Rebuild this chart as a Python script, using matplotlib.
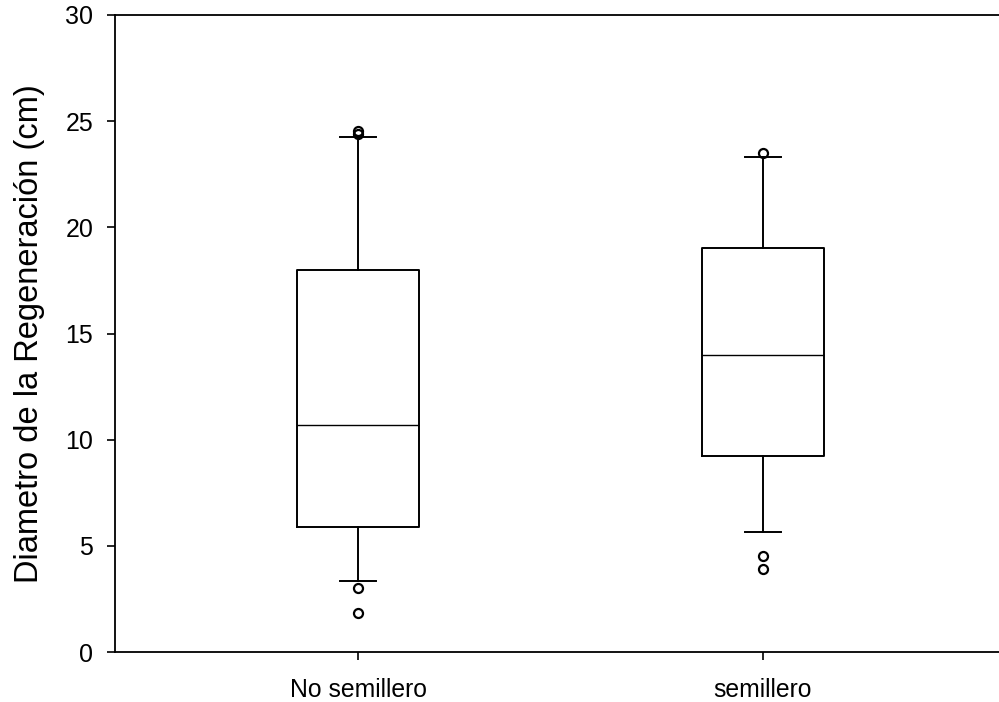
import matplotlib
matplotlib.use("Agg")
import matplotlib.pyplot as plt

categories = ["No semillero", "semillero"]
q1 = [5.88, 9.22]
medians = [10.69, 13.99]
q3 = [17.99, 19.01]
whislo = [3.36, 5.65]
whishi = [24.27, 23.29]
fliers = [[24.56, 24.39, 3.0, 1.82], [23.52, 4.54, 3.91]]

plt.rcParams['font.family'] = ['Liberation Sans', 'DejaVu Sans']

fig = plt.figure(figsize=(9.99, 7.02), dpi=100)
ax = fig.add_axes([115/999, 1-652/702, (1006-115)/999, (652-15)/702])

stats = []
for i, c in enumerate(categories):
    stats.append(dict(label=c, q1=q1[i], med=medians[i], q3=q3[i],
                      whislo=whislo[i], whishi=whishi[i], fliers=fliers[i]))

lw = 1.4
ax.bxp(stats, positions=[1, 2], widths=0.3, showfliers=True,
       boxprops=dict(color='black', linewidth=lw),
       medianprops=dict(color='black', linewidth=1.0),
       whiskerprops=dict(color='black', linewidth=lw),
       capprops=dict(color='black', linewidth=lw),
       capwidths=0.09,
       flierprops=dict(marker='o', markerfacecolor='none', markeredgecolor='black',
                       markersize=6.5, markeredgewidth=1.6, linestyle='none'))

ax.set_xlim(0.4, 2.6)
ax.set_ylim(0, 30)
ax.set_yticks([0, 5, 10, 15, 20, 25, 30])
ax.set_xticks([1, 2])
ax.set_xticklabels(categories)
ax.tick_params(axis='both', direction='out', length=6, width=1.2, colors='black')
ax.tick_params(axis='x', pad=12.5, labelsize=17.8)
ax.tick_params(axis='y', pad=9.6, labelsize=18)
ax.set_ylabel("Diametro de la Regeneración (cm)", fontsize=23.5)
ax.yaxis.set_label_coords((45 - 115) / 891, 0.5)
for s in ax.spines.values():
    s.set_linewidth(1.3)
ax.spines['right'].set_visible(False)

fig.savefig("out.png", dpi=100)
